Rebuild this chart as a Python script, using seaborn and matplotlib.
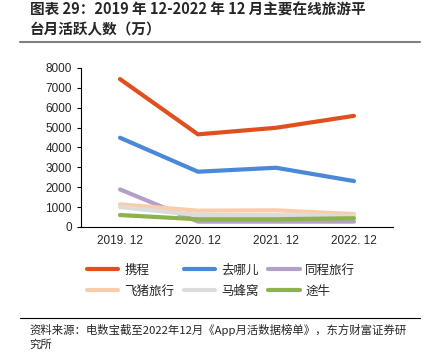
import pandas as pd
import matplotlib.pyplot as plt
import seaborn as sns
from matplotlib.lines import Line2D

# data (万人)
periods = ['2019. 12', '2020. 12', '2021. 12', '2022. 12']
platforms = ['携程', '去哪儿', '同程旅行', '飞猪旅行', '马蜂窝', '途牛']
ctrip = [7440, 4660, 4990, 5590]
qunar = [4490, 2780, 2980, 2310]
tongcheng = [1890, 270, 270, 270]
fliggy = [1140, 820, 840, 650]
mafengwo = [1000, 600, 600, 550]
tuniu = [600, 390, 390, 440]
colors = ['#E0501E', '#4A88D9', '#B3A0C9', '#F9CDAB', '#DCDCDC', '#8DB24A']

series = [ctrip, qunar, tongcheng, fliggy, mafengwo, tuniu]
rows = []
for name, vals in zip(platforms, series):
    for i, v in enumerate(vals):
        rows.append({'pos': i, 'period': periods[i], 'platform': name, 'value': v})
df = pd.DataFrame(rows)

sns.set_style('white')
plt.rcParams['font.family'] = ['Liberation Sans', 'Noto Sans CJK SC', 'DejaVu Sans']

fig = plt.figure(figsize=(4.23, 3.53), dpi=100)
ax = fig.add_axes([0.1915, 0.357, 0.7375, 0.4505])

sns.lineplot(data=df, x='pos', y='value', hue='platform', hue_order=platforms,
             palette=colors, linewidth=3, ax=ax, legend=False)

ax.set_xlim(-0.5, 3.5)
ax.set_ylim(0, 8000)
ax.set_yticks(range(0, 8001, 1000))
ax.set_xticks(range(4))
ax.set_xticklabels(periods)
ax.set_xticks([-0.5, 0.5, 1.5, 2.5, 3.5], minor=True)
ax.tick_params(axis='x', which='major', length=0, labelsize=8.5, pad=6)
ax.tick_params(axis='x', which='minor', direction='in', length=3, width=0.8, color='black')
ax.tick_params(axis='y', direction='out', length=3, width=0.8, labelsize=8.5, left=True, color='black')
ax.set_xlabel('')
ax.set_ylabel('')
for s in ['top', 'right']:
    ax.spines[s].set_visible(False)
for s in ['left', 'bottom']:
    ax.spines[s].set_color('black')
    ax.spines[s].set_linewidth(0.8)

# legend, filled row by row
order = [0, 3, 1, 4, 2, 5]
handles = [Line2D([0], [0], color=colors[i], lw=3) for i in order]
labels = [platforms[i] for i in order]
fig.legend(handles, labels, loc='center', bbox_to_anchor=(0.523, 0.205), ncol=3,
           frameon=False, handlelength=2.5, columnspacing=0.8,
           handletextpad=0.45, labelspacing=0.65,
           prop={'family': 'Noto Sans CJK SC', 'size': 9})

# title
fig.text(0.07, 0.995, '图表 29：2019 年 12-2022 年 12 月主要在线旅游平\n台月活跃人数（万）',
         ha='left', va='top', fontsize=10.5, fontweight='bold', linespacing=1.3,
         family=['Noto Sans CJK SC', 'DejaVu Sans'])
fig.add_artist(Line2D([0.047, 0.993], [0.882, 0.882], color='#808080', lw=1.5))

# source
fig.add_artist(Line2D([0.047, 0.993], [0.099, 0.099], color='black', lw=0.8))
fig.text(0.07, 0.083, '资料来源：电数宝截至2022年12月《App月活数据榜单》，东方财富证券研\n究所',
         ha='left', va='top', fontsize=8.2, linespacing=1.35,
         family=['Noto Sans CJK SC', 'DejaVu Sans'])

fig.savefig('out.png', dpi=100)
